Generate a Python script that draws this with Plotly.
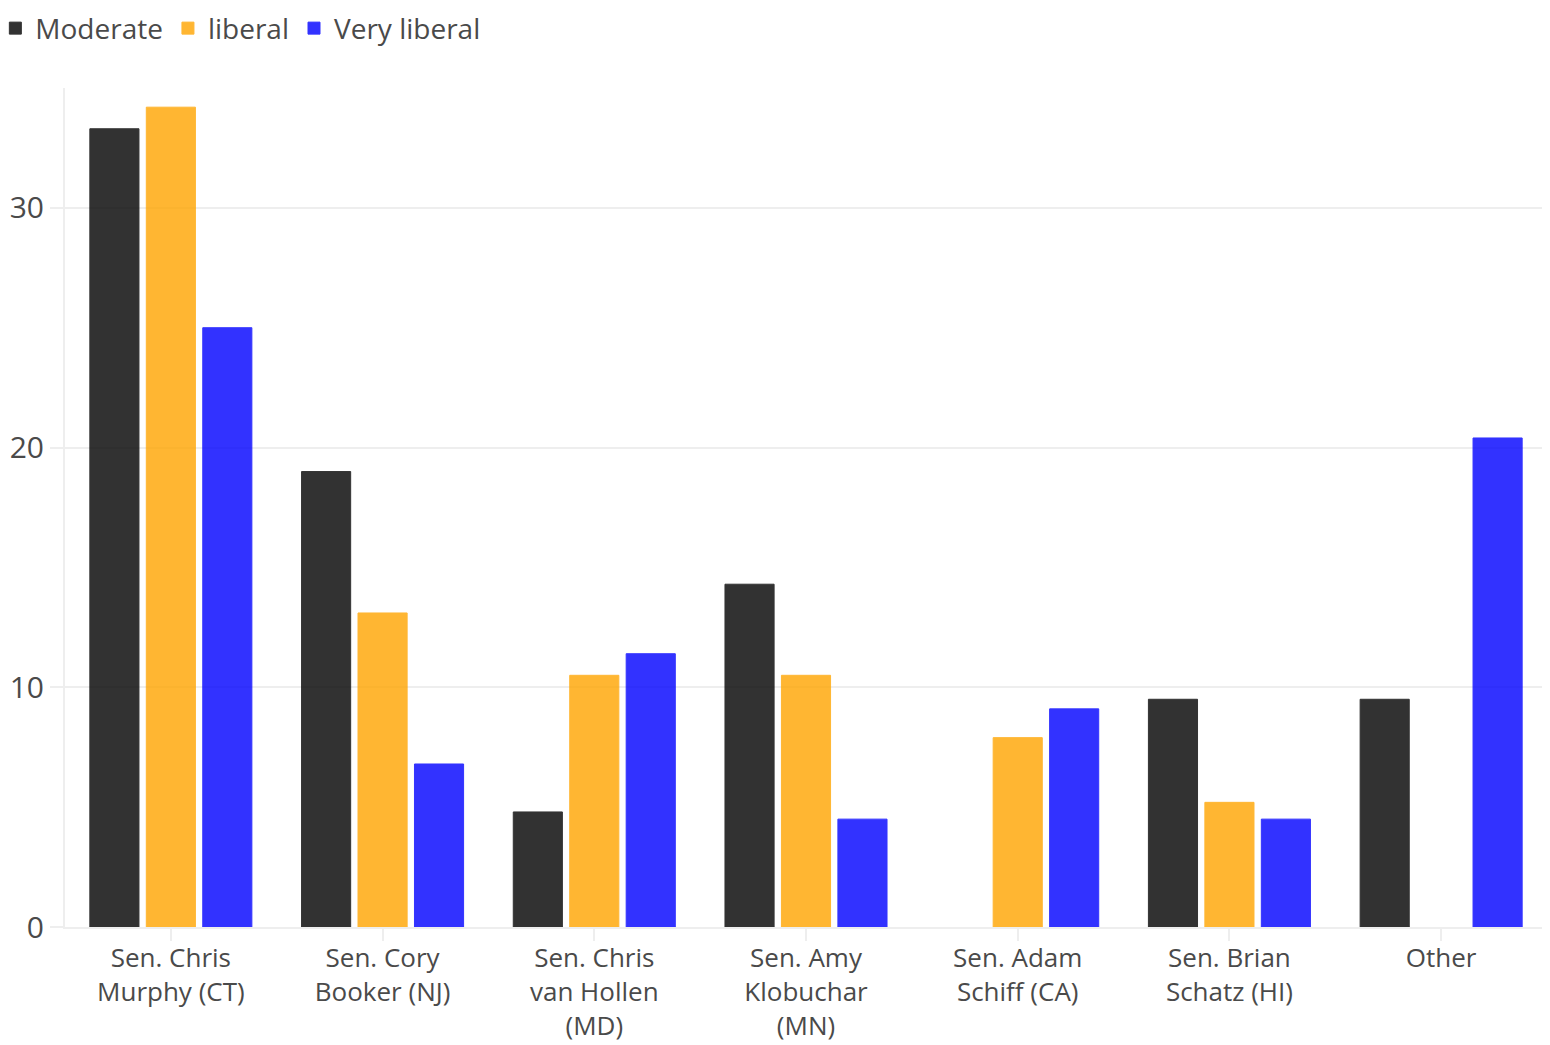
import plotly.graph_objects as go

categories = [
    "Sen. Chris<br>Murphy (CT)",
    "Sen. Cory<br>Booker (NJ)",
    "Sen. Chris<br>van Hollen<br>(MD)",
    "Sen. Amy<br>Klobuchar<br>(MN)",
    "Sen. Adam<br>Schiff (CA)",
    "Sen. Brian<br>Schatz (HI)",
    "Other",
]
moderate = [33.3, 19.0, 4.8, 14.3, None, 9.5, 9.5]
liberal = [34.2, 13.1, 10.5, 10.5, 7.9, 5.2, None]
very_liberal = [25.0, 6.8, 11.4, 4.5, 9.1, 4.5, 20.4]

series_names = ["Moderate", "liberal", "Very liberal"]
series_colors = ["#000000", "#FFA500", "#0000FF"]
series_values = [moderate, liberal, very_liberal]

FONT = "Open Sans"
TXT = "#4a4a4a"

fig = go.Figure()
for name, color, vals in zip(series_names, series_colors, series_values):
    fig.add_trace(go.Bar(
        x=categories, y=vals, name=name,
        marker=dict(color=color, line=dict(color=color, width=1)),
        opacity=0.8,
    ))

fig.update_layout(
    width=1542, height=1037,
    margin=dict(l=57, r=3, t=80, b=118, autoexpand=False),
    paper_bgcolor="white", plot_bgcolor="white",
    barmode="group", bargap=0.2, bargroupgap=0.13,
    font=dict(family=FONT, size=28, color=TXT),
    legend=dict(
        orientation="h",
        x=-0.047, y=1.071, xanchor="left", yanchor="middle",
        font=dict(family=FONT, size=28, color=TXT),
        traceorder="normal", itemwidth=30,
    ),
    showlegend=True,
)
fig.update_xaxes(
    automargin=False,
    showline=True, linecolor="#eeeeee", linewidth=2,
    ticks="outside", ticklen=12, tickcolor="#eeeeee", tickwidth=2,
    ticklabelstandoff=-5,
    showgrid=False, tickfont=dict(family=FONT, size=26, color=TXT),
)
fig.update_yaxes(
    automargin=False,
    range=[0, 35], tickvals=[0, 10, 20, 30],
    showline=True, linecolor="#eeeeee", linewidth=2,
    showgrid=True, gridcolor="#eeeeee", gridwidth=2,
    zeroline=False,
    ticks="outside", ticklen=13, tickcolor="#eeeeee", tickwidth=2,
    ticklabelstandoff=0,
    tickfont=dict(family=FONT, size=30, color=TXT),
)

fig.write_html("out.html")
